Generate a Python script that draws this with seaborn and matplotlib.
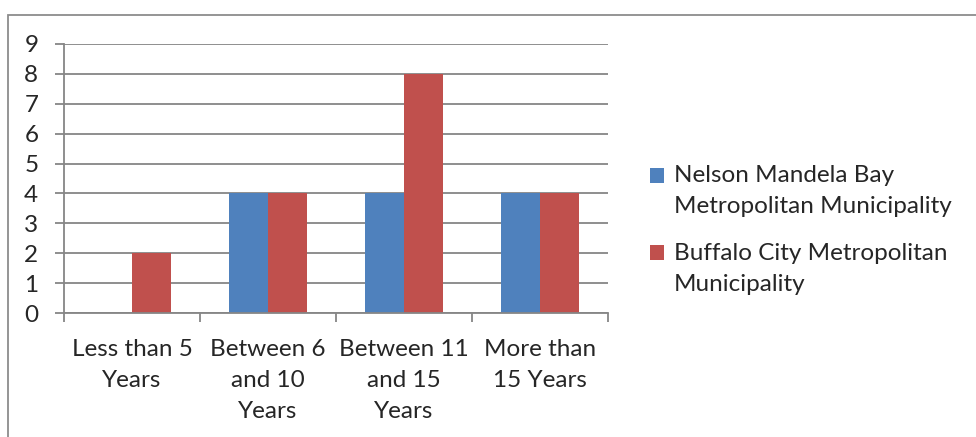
import matplotlib
matplotlib.use("Agg")
import matplotlib.pyplot as plt
import matplotlib.patches as mpatches
from matplotlib.legend_handler import HandlerPatch
import numpy as np
import pandas as pd
import seaborn as sns

categories = ["Less than 5\nYears", "Between 6\nand 10\nYears", "Between 11\nand 15\nYears", "More than\n15 Years"]
series_names = ["Nelson Mandela Bay\nMetropolitan Municipality", "Buffalo City Metropolitan\nMunicipality"]
nelson_values = [0, 4, 4, 4]
buffalo_values = [2, 4, 8, 4]
y_ticks = list(range(0, 10))
colors = ["#4F81BD", "#C0504D"]

df = pd.DataFrame({
    "category": categories * 2,
    "series": [series_names[0]] * len(categories) + [series_names[1]] * len(categories),
    "value": nelson_values + buffalo_values,
})

sns.set_theme(style="white")
plt.rcParams["font.family"] = ["Lato", "DejaVu Sans"]
FS = 17.5

fig = plt.figure(figsize=(9.76, 4.37), dpi=100)
ax = fig.add_axes([64 / 976, 1 - 313 / 437, (608 - 64) / 976, (313 - 44) / 437])

sns.barplot(data=df, x="category", y="value", hue="series", order=categories,
            hue_order=series_names, palette=colors, width=0.574, saturation=1,
            edgecolor="none", linewidth=0, ax=ax, legend=False)

grid_color = "#868686"
ax.set_ylim(0, 9)
ax.set_xlim(-0.5, len(categories) - 0.5)
ax.set_yticks(y_ticks)
ax.yaxis.grid(True, color=grid_color, linewidth=1.3)
ax.set_axisbelow(True)
ax.set_xlabel("")
ax.set_ylabel("")

for side in ["top", "right"]:
    ax.spines[side].set_visible(False)
for side in ["left", "bottom"]:
    ax.spines[side].set_color(grid_color)
    ax.spines[side].set_linewidth(1.3)

ax.tick_params(axis="y", which="major", length=6.5, width=1.3, color=grid_color,
               labelsize=FS, pad=12, left=True)
ax.tick_params(axis="x", which="major", length=0, labelsize=FS, pad=19)
ax.set_xticks(np.arange(-0.5, len(categories), 1.0), minor=True)
ax.tick_params(axis="x", which="minor", length=6.5, width=1.3, color=grid_color, bottom=True)
for lbl in ax.get_xticklabels():
    lbl.set_horizontalalignment("center")
    lbl.set_linespacing(1.58)


def first_line_square(legend, orig_handle, xdescent, ydescent, width, height, fontsize):
    # square swatch aligned with the first line of a two-line label
    return mpatches.Rectangle((-xdescent, -ydescent + 11.5), width, height)


handles = [mpatches.Patch(facecolor=c, edgecolor="none") for c in colors]
leg = fig.legend(handles, series_names, loc="center left", bbox_to_anchor=(628 / 976, 1 - 230 / 437),
                 frameon=False, fontsize=FS, handlelength=0.6, handleheight=0.6,
                 handletextpad=0.4, labelspacing=1.05,
                 handler_map={mpatches.Patch: HandlerPatch(patch_func=first_line_square)})
for t in leg.get_texts():
    t.set_linespacing(1.58)

border = mpatches.Rectangle((8 / 976, -0.2), 1.2, 1.2 - 15 / 437, transform=fig.transFigure,
                            fill=False, edgecolor="#8C8C8C", linewidth=1.3, clip_on=False)
fig.add_artist(border)

fig.savefig("out.png", dpi=100, facecolor="white")
